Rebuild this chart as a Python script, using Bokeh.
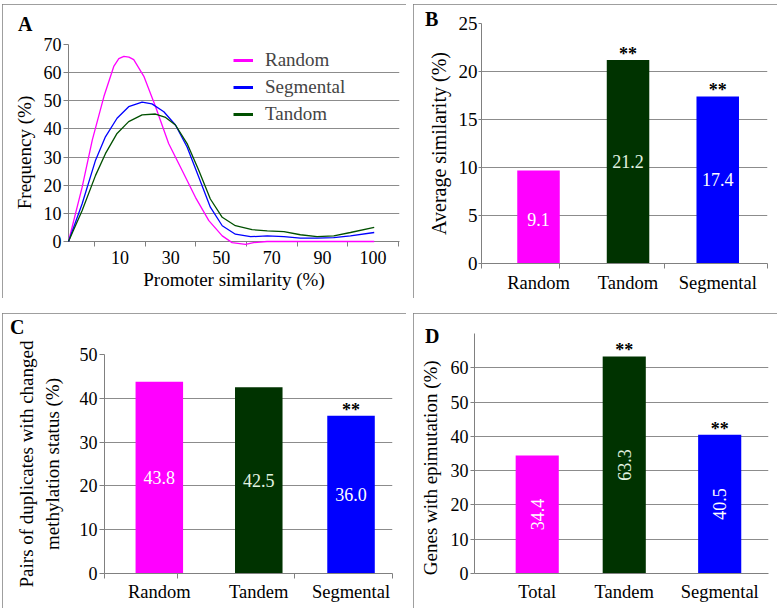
import math
from bokeh.plotting import figure
from bokeh.layouts import row, column, Spacer
from bokeh.models import FixedTicker, Legend, LegendItem, Range1d, Div
from bokeh.embed import file_html
from bokeh.resources import INLINE
from bokeh.core.properties import value

FONT = "Liberation Serif"
GRID = "#8c8c8c"
AXIS = "#808080"
NBSP = "\u00a0"

# ---------------- data ----------------
# Panel A: frequency curves vs promoter similarity
a_series = ["Random", "Segmental", "Tandom"]
a_tick_labels = ["10", "30", "50", "70", "90", "100"]
a_rand_x = [-10.4, -5.0, -1.0, 3.6, 7.5, 9.5, 11.5, 13.5, 15.4, 19.4, 24.0, 29.2, 34.5,
            39.8, 45.1, 50.4, 54.3, 59.6, 62.8, 68.1, 80, 90, 100, 110.5]
a_rand_y = [0, 19.3, 36.0, 51.5, 62.2, 65.0, 65.8, 65.5, 64.6, 58.7, 48.0, 34.8, 25.3,
            15.7, 7.4, 2.0, -0.4, -1.0, -0.4, 0, 0, 0, 0, 0]
a_seg_x = [-10.4, -5.0, 0.3, 4.2, 8.8, 13.4, 18.7, 22.6, 27.3, 31.9, 36.5, 41.1, 45.7,
           50.4, 55.6, 61.6, 68.2, 74.8, 81.3, 87.9, 94.5, 101.1, 110.5]
a_seg_y = [0, 13.4, 28.9, 37.2, 43.8, 47.9, 49.5, 48.9, 46.1, 41.4, 33.6, 22.9, 12.2,
           5.6, 2.6, 1.7, 2.0, 1.7, 1.2, 1.2, 1.4, 2.0, 3.2]
a_tan_x = [-10.4, -5.0, 0.3, 4.2, 8.8, 13.4, 18.7, 24.0, 28.0, 31.9, 36.5, 41.1, 45.7,
           50.4, 55.6, 62.2, 68.2, 74.8, 81.3, 87.9, 94.5, 101.1, 110.5]
a_tan_y = [0, 11.0, 23.5, 31.2, 38.4, 42.6, 45.0, 45.3, 44.1, 41.4, 34.8, 25.3, 15.1,
           8.6, 5.6, 4.2, 3.8, 3.5, 2.4, 1.7, 2.0, 3.2, 5.0]

# Panel B: average similarity
b_cats = ["Random", "Tandom", "Segmental"]
b_vals = [9.7, 21.2, 17.4]
b_labels = ["9.1", "21.2", "17.4"]
b_sig = ["", "**", "**"]

# Panel C: pairs with changed methylation status
c_cats = ["Random", "Tandem", "Segmental"]
c_vals = [43.8, 42.5, 36.0]
c_labels = ["43.8", "42.5", "36.0"]
c_sig = ["", "", "**"]

# Panel D: genes with epimutation
d_cats = ["Total", "Tandem", "Segmental"]
d_vals = [34.4, 63.3, 40.5]
d_labels = ["34.4", "63.3", "40.5"]
d_sig = ["", "**", "**"]

panel_letters = ["A", "B", "C", "D"]

bar_colors = ["#ff00ff", "#003300", "#0000ff"]
label_colors = ["#ffffff", "#e2f4e2", "#ffffff"]
line_colors = ["#ff00ff", "#0000ff", "#005000"]


def base(w, h, l, r, t, b, xr, yr):
    p = figure(width=w, height=h, x_range=Range1d(*xr), y_range=Range1d(*yr),
               output_backend="svg", toolbar_location=None,
               min_border_left=l, min_border_right=r, min_border_top=t, min_border_bottom=b)
    p.outline_line_color = None
    p.background_fill_color = "white"
    p.border_fill_color = "white"
    p.styles = {"outline": "1px solid #7f7f7f", "outline-offset": "-1px"}
    p.xgrid.grid_line_color = None
    p.ygrid.grid_line_color = GRID
    p.ygrid.grid_line_width = 1
    for ax in (p.xaxis[0], p.yaxis[0]):
        ax.axis_line_color = AXIS
        ax.major_tick_line_color = AXIS
        ax.minor_tick_line_color = None
        ax.major_tick_in = 0
        ax.major_label_text_font = FONT
        ax.major_label_text_font_size = "18px"
        ax.major_label_text_color = "black"
        ax.axis_label_text_font = FONT
        ax.axis_label_text_font_size = "19px"
        ax.axis_label_text_font_style = "normal"
        ax.axis_label_text_color = "black"
    return p


def bar_panel(p, pos, width, cats, vals, labels, sig, yticks, label_angle=0.0,
              minor=None, xstandoff=8):
    p.vbar(x=pos, top=vals, width=width, color=bar_colors, line_color=None)
    p.text(x=pos, y=[float(s) / 2 for s in labels], text=labels, angle=label_angle,
           text_color=label_colors, text_align="center", text_baseline="middle",
           text_font=value(FONT), text_font_size="18px")
    p.text(x=pos, y=vals, text=sig, text_align="center", text_baseline="alphabetic",
           y_offset=-6, text_color="black", text_font=value(FONT),
           text_font_size="18px", text_font_style="bold")
    p.xaxis.ticker = FixedTicker(ticks=pos, minor_ticks=minor or [])
    p.xaxis.major_label_overrides = {x: c for x, c in zip(pos, cats)}
    p.xaxis.major_tick_out = 0
    p.xaxis.major_label_standoff = xstandoff
    p.xaxis.major_label_text_font_size = "18.5px"
    if minor:
        p.xaxis.minor_tick_line_color = AXIS
        p.xaxis.minor_tick_out = 5
        p.xaxis.minor_tick_in = 0
    p.yaxis.ticker = FixedTicker(ticks=yticks)
    p.ygrid.ticker = FixedTicker(ticks=yticks)


# ---------------- Panel A ----------------
pA = base(404, 294, 66, 7, 40, 57, (-10.4, 120.5), (0, 70))
xs = [a_rand_x, a_seg_x, a_tan_x]
ys = [a_rand_y, a_seg_y, a_tan_y]
for x, y, c in zip(xs, ys, line_colors):
    pA.line(x, y, line_color=c, line_width=1.3, level="overlay")
leg_r = [pA.line([-1000, -999], [-1000, -1000], line_color=c, line_width=3)
         for c in line_colors]
leg = Legend(items=[LegendItem(label=n, renderers=[r]) for n, r in zip(a_series, leg_r)],
             location=(165, 115))
leg.label_text_font = FONT
leg.label_text_font_size = "19px"
leg.glyph_width = 20
leg.glyph_height = 24
leg.label_height = 24
leg.spacing = 3
leg.padding = 0
leg.margin = 0
leg.label_standoff = 12
leg.border_line_color = None
leg.background_fill_alpha = 0
pA.add_layout(leg)
a_tick_pos = [10, 30, 50, 70, 90, 110]
pA.xaxis.ticker = FixedTicker(ticks=a_tick_pos, minor_ticks=[0, 20, 40, 60, 80, 100, 120])
pA.xaxis.major_label_overrides = {x: t for x, t in zip(a_tick_pos, a_tick_labels)}
pA.xaxis.major_tick_out = 0
pA.xaxis.minor_tick_line_color = AXIS
pA.xaxis.minor_tick_out = 5
pA.xaxis.minor_tick_in = 0
pA.xaxis.major_label_standoff = 4
pA.xaxis.axis_label = "Promoter similarity (%)"
pA.xaxis.axis_label_standoff = 2
pA.yaxis.ticker = FixedTicker(ticks=list(range(0, 71, 10)))
pA.ygrid.ticker = FixedTicker(ticks=list(range(0, 71, 10)))
pA.yaxis.major_tick_out = 5
pA.yaxis.major_label_standoff = 2
# trailing no-break spaces move the centred title down, as in the original figure
pA.yaxis.axis_label = "Frequency (%)" + NBSP * 4
pA.yaxis.axis_label_standoff = 6

# ---------------- Panel B ----------------
B_POS = [0.598, 1.537, 2.478]
pB = base(364, 294, 68, 10, 19, 35, (0, 3), (0, 25))
bar_panel(pB, B_POS, 0.446, b_cats, b_vals, b_labels, b_sig, [0, 5, 10, 15, 20, 25],
          minor=[0, 0.821, 1.923, 3], xstandoff=4)
pB.yaxis.major_tick_out = 3
pB.yaxis.major_label_standoff = 1
pB.yaxis.major_label_text_font_size = "19px"
pB.yaxis.axis_label = "Average similarity (%)"
pB.yaxis.axis_label_text_font_size = "20px"
pB.yaxis.axis_label_standoff = 6

# ---------------- Panel C ----------------
C_POS = [0.571, 1.607, 2.568]
pC = base(404, 295, 102, 14, 41, 35, (0, 3), (0, 50))
bar_panel(pC, C_POS, 0.495, c_cats, c_vals, c_labels, c_sig, [0, 10, 20, 30, 40, 50],
          minor=[0, 0.764, 1.98, 3], xstandoff=3)
pC.yaxis.major_tick_out = 5
pC.yaxis.major_label_standoff = 2
pC.yaxis.axis_label = "Pairs of duplicates with changed\nmethylation status (%)"
pC.yaxis.axis_label_standoff = 14

# ---------------- Panel D ----------------
D_POS = [0.64, 1.528, 2.502]
pD = base(364, 295, 61, 9, 20, 35, (0, 3), (0, 70))
bar_panel(pD, D_POS, 0.44, d_cats, d_vals, d_labels, d_sig, [0, 10, 20, 30, 40, 50, 60],
          label_angle=math.pi / 2, xstandoff=8)
pD.yaxis.major_tick_out = 4
pD.yaxis.major_label_standoff = 2
pD.yaxis.axis_label = "Genes with epimutation (%)" + NBSP * 6
pD.yaxis.axis_label_standoff = 7

# ---------------- panel letters (HTML overlay, page coordinates) ----------------
LETTER_POS = [(18, 30), (425, 25), (10, 333), (425, 342)]  # left, baseline
DIV_TOP = 619
spans = "".join(
    f'<span style="position:absolute;left:{lx}px;top:{by - 16.75 - DIV_TOP:.2f}px;'
    f"font-family:'{FONT}';font-weight:bold;font-size:20px;line-height:20px;"
    f'color:#000;white-space:nowrap">{t}</span>'
    for t, (lx, by) in zip(panel_letters, LETTER_POS))
letters_div = Div(text=f'<div style="position:relative;width:0;height:0">{spans}</div>',
                  width=10, height=1, margin=0)

top = row(Spacer(width=2, height=294), column(pA), Spacer(width=7, height=294), column(pB))
bottom = row(Spacer(width=2, height=295), column(pC), Spacer(width=7, height=295), column(pD))
layout = column(Spacer(width=10, height=4), top, Spacer(width=10, height=15), bottom,
                letters_div)
open("out.html", "w").write(file_html(layout, INLINE))
